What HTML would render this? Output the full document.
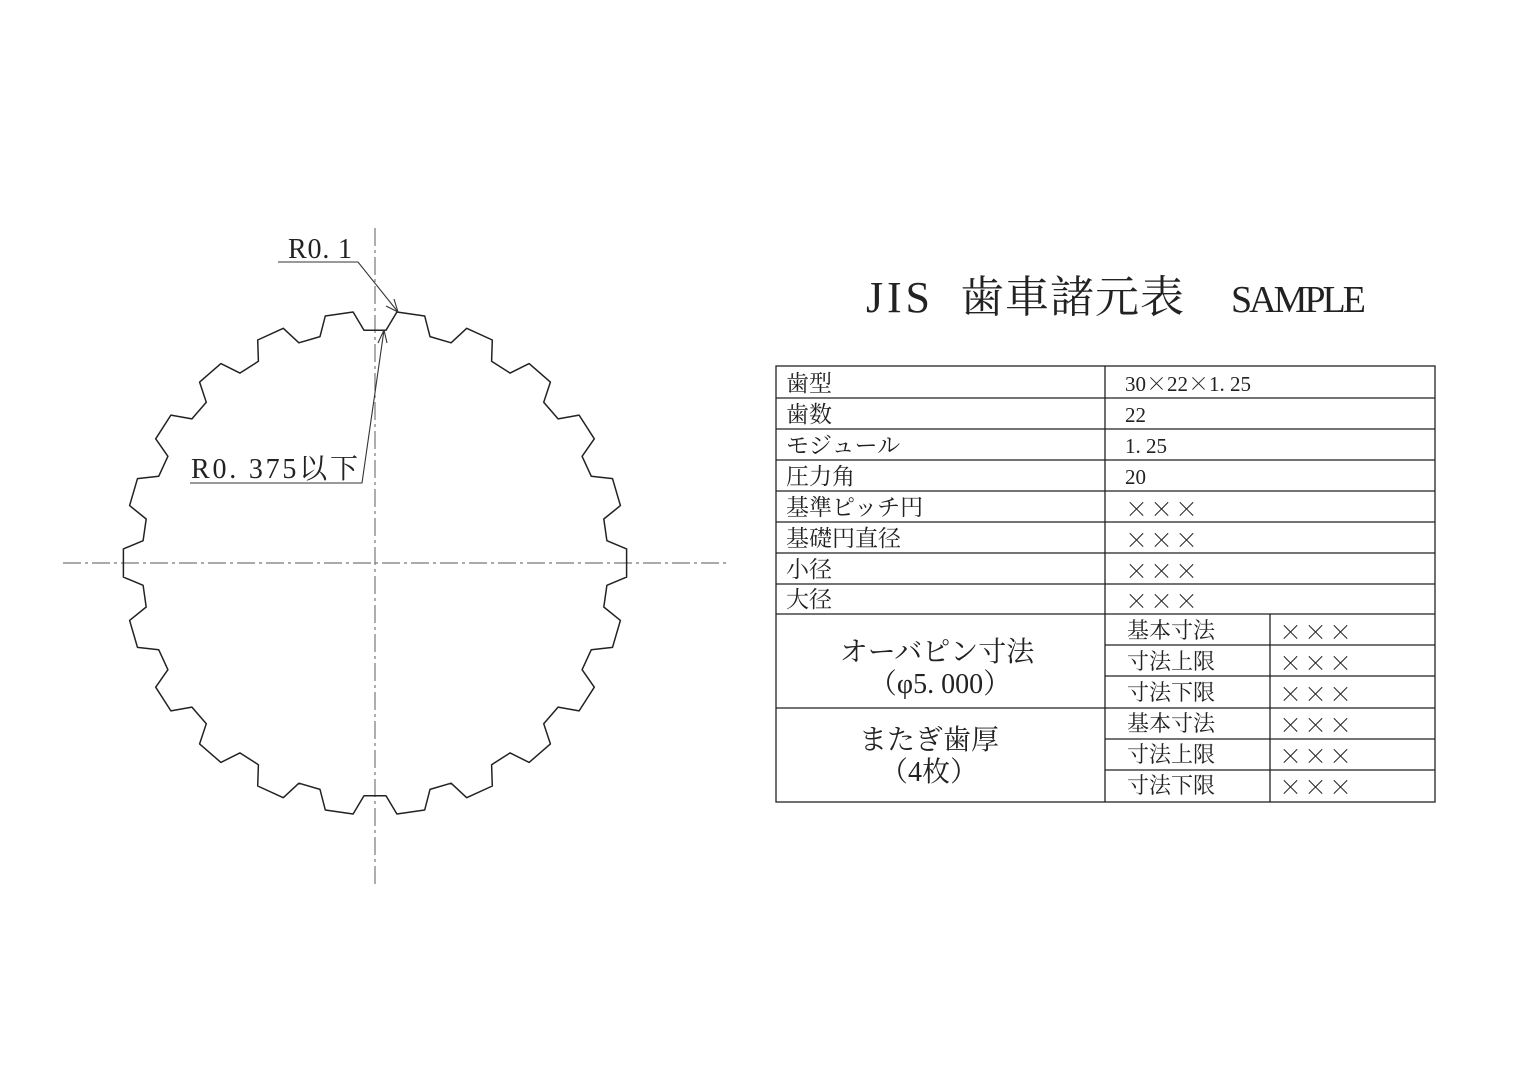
<!DOCTYPE html>
<html><head><meta charset="utf-8"><style>
html,body{margin:0;padding:0;background:#fff;}
svg{display:block}
text{font-family:"Liberation Serif","Noto Serif CJK SC",serif;fill:#222;}
g.x text{font-family:"Noto Serif CJK SC",serif;font-size:23px;letter-spacing:2px}
</style></head><body>
<svg id="s" width="1536" height="1086" viewBox="0 0 1536 1086" xmlns="http://www.w3.org/2000/svg">
<rect width="1536" height="1086" fill="#fff"/>
<g stroke="#777" stroke-width="1.2" stroke-dasharray="18,4,3,4" fill="none">
<line x1="375" y1="228" x2="375" y2="886"/>
<line x1="63" y1="563" x2="727" y2="563"/>
</g>
<path id="gear" fill="none" stroke="#222" stroke-width="1.5" stroke-linejoin="round"/>
<g stroke="#333" stroke-width="1.1" fill="none">
<polyline points="278,262 358,262 398,312"/>
<path d="M398,312 l-12,-6 M398,312 l-4,-13"/>
<polyline points="190,483 362,483 384,330"/>
<path d="M384,330 l-6,13 M384,330 l3,13"/>
</g>
<text x="288" y="258" font-size="28" textLength="64">R0. 1</text>
<text x="191" y="478" font-size="28" textLength="167">R0. 375以下</text>
<text x="866" y="312" font-size="44" textLength="64">JIS</text>
<text x="960" y="312" font-size="44" textLength="224">歯車諸元表</text>
<text x="1231" y="312" font-size="38" textLength="135">SAMPLE</text>
<g stroke="#222" stroke-width="1.3" fill="none">
<rect x="776" y="366" width="659" height="436"/>
<line x1="1105" y1="366" x2="1105" y2="802"/>
<line x1="1270" y1="614" x2="1270" y2="802"/>
<line x1="776" y1="398" x2="1435" y2="398"/>
<line x1="776" y1="429" x2="1435" y2="429"/>
<line x1="776" y1="460" x2="1435" y2="460"/>
<line x1="776" y1="491" x2="1435" y2="491"/>
<line x1="776" y1="522" x2="1435" y2="522"/>
<line x1="776" y1="553" x2="1435" y2="553"/>
<line x1="776" y1="584" x2="1435" y2="584"/>
<line x1="776" y1="614" x2="1435" y2="614"/>
<line x1="1105" y1="645" x2="1435" y2="645"/>
<line x1="1105" y1="676" x2="1435" y2="676"/>
<line x1="776" y1="708" x2="1435" y2="708"/>
<line x1="1105" y1="739" x2="1435" y2="739"/>
<line x1="1105" y1="770" x2="1435" y2="770"/>
</g>
<g font-size="23">
<text x="786" y="391">歯型</text>
<text x="786" y="422">歯数</text>
<text x="786" y="453">モジュール</text>
<text x="786" y="484">圧力角</text>
<text x="786" y="515">基準ピッチ円</text>
<text x="786" y="546">基礎円直径</text>
<text x="786" y="577">小径</text>
<text x="786" y="607">大径</text>
</g>
<g font-size="21">
<text x="1125" y="391">30<tspan font-family="Noto Serif CJK SC">×</tspan>22<tspan font-family="Noto Serif CJK SC">×</tspan>1. 25</text>
<text x="1125" y="422">22</text>
<text x="1125" y="453">1. 25</text>
<text x="1125" y="484">20</text>
</g>
<g class="x">
<text x="1125" y="517">×××</text>
<text x="1125" y="548">×××</text>
<text x="1125" y="579">×××</text>
<text x="1125" y="609">×××</text>
<text x="1279" y="640">×××</text>
<text x="1279" y="671">×××</text>
<text x="1279" y="702">×××</text>
<text x="1279" y="733">×××</text>
<text x="1279" y="764">×××</text>
<text x="1279" y="795">×××</text>
</g>
<g font-size="22">
<text x="1127" y="638">基本寸法</text>
<text x="1127" y="669">寸法上限</text>
<text x="1127" y="700">寸法下限</text>
<text x="1127" y="731">基本寸法</text>
<text x="1127" y="762">寸法上限</text>
<text x="1127" y="793">寸法下限</text>
</g>
<g font-size="28" text-anchor="middle">
<text x="937" y="661">オーバピン寸法</text>
<text x="940" y="693">（φ5. 000）</text>
<text x="929" y="749">またぎ歯厚</text>
<text x="929" y="781">（4枚）</text>
</g>
</svg>
<script>
(function(){
var cx=375,cy=563,Ro=252,Ri=233,n=22,p=2*Math.PI/n;
var tip=3.2*Math.PI/180, root=2.7*Math.PI/180;
var pts=[];
for(var k=0;k<n;k++){
 var a=Math.PI+k*p;
 [[a-tip,Ro],[a+tip,Ro],[a+p/2-root,Ri],[a+p/2+root,Ri]].forEach(function(q){pts.push([cx+q[1]*Math.cos(q[0]),cy-q[1]*Math.sin(q[0])]);});
}
document.getElementById("gear").setAttribute("d","M"+pts.map(function(q){return q[0].toFixed(1)+","+q[1].toFixed(1);}).join(" L")+" Z");
})();
</script>
</body></html>
